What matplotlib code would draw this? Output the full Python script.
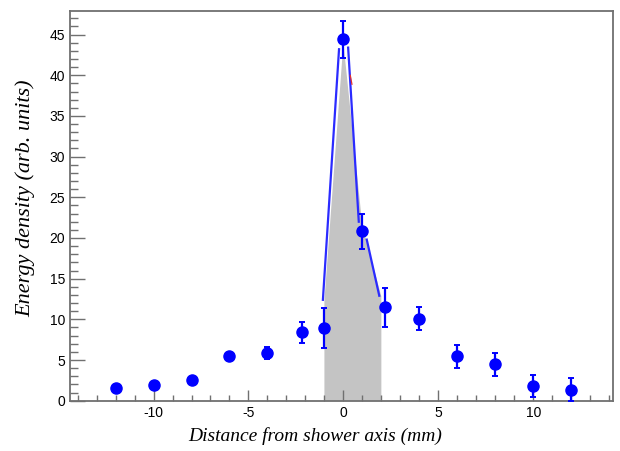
import numpy as np
import matplotlib.pyplot as plt
from matplotlib.ticker import MultipleLocator

plt.rcParams["axes.unicode_minus"] = False

# measured points (distance in mm, energy density, error)
dist = [-12, -10, -8, -6, -4, -2.2, -1, 0, 1, 2.2, 4, 6, 8, 10, 12]
energy = [1.5, 1.95, 2.55, 5.55, 5.85, 8.4, 8.95, 44.4, 20.8, 11.5, 10.1, 5.45, 4.45, 1.8, 1.35]
err = [0.0, 0.0, 0.0, 0.0, 0.7, 1.3, 2.5, 2.3, 2.1, 2.4, 1.4, 1.4, 1.4, 1.4, 1.4]

# simulated shape (filled grey area)
sim_x = [-1, -1, 0, 1, 2, 2]
sim_y = [0, 12.3, 44.0, 21.5, 12.8, 0]

# blue outline pieces of the simulated shape
seg_x = [[-1.08, -0.23], [0.25, 0.81], [1.23, 1.89]]
seg_y = [[12.4, 43.2], [43.4, 22.0], [19.8, 12.9]]

frame = "#707070"

fig = plt.figure(figsize=(6.2, 4.51), dpi=100)
ax = fig.add_axes([70 / 620, 1 - 400.7 / 451, 543 / 620, 389.7 / 451])

ax.fill(sim_x, sim_y, color="#c4c4c4", lw=0, zorder=1)
for sx, sy in zip(seg_x, seg_y):
    ax.plot(sx, sy, color="#2b2bff", lw=1.6, zorder=2)
ax.plot([0.36, 0.45], [40.0, 38.9], color="#e03030", lw=0.9, zorder=2)

ax.errorbar(dist, energy, yerr=err, fmt="o", color="#0000ff", ms=8,
            elinewidth=1.6, capsize=2.5, capthick=1.4, zorder=3)

ax.set_xlim(-14.4, 14.2)
ax.set_ylim(0, 47.9)
ax.xaxis.set_major_locator(MultipleLocator(5))
ax.xaxis.set_minor_locator(MultipleLocator(1))
ax.yaxis.set_major_locator(MultipleLocator(5))
ax.yaxis.set_minor_locator(MultipleLocator(1))

for s in ax.spines.values():
    s.set_color(frame)
    s.set_linewidth(1.3)

ax.tick_params(which="both", direction="in", color=frame, width=1.0,
               top=False, right=False, labelsize=10)
ax.tick_params(axis="y", which="major", length=11)
ax.tick_params(axis="y", which="minor", length=6)
ax.tick_params(axis="x", which="major", length=8)
ax.tick_params(axis="x", which="minor", length=4)
for lab in ax.get_xticklabels() + ax.get_yticklabels():
    lab.set_family("Liberation Sans")

ax.set_xlabel("Distance from shower axis (mm)", family="Liberation Serif",
              style="italic", fontsize=14)
ax.set_ylabel("Energy density (arb. units)", family="Liberation Serif",
              style="italic", fontsize=16)
# label centres placed in figure pixels (measured from the top)
ax.xaxis.set_label_coords(315 / 620, 1 - 436 / 451, transform=fig.transFigure)
ax.yaxis.set_label_coords(25 / 620, 1 - 198 / 451, transform=fig.transFigure)
ax.xaxis.label.set_va("center")
ax.yaxis.label.set_va("center")

fig.savefig("out.png", dpi=100)
